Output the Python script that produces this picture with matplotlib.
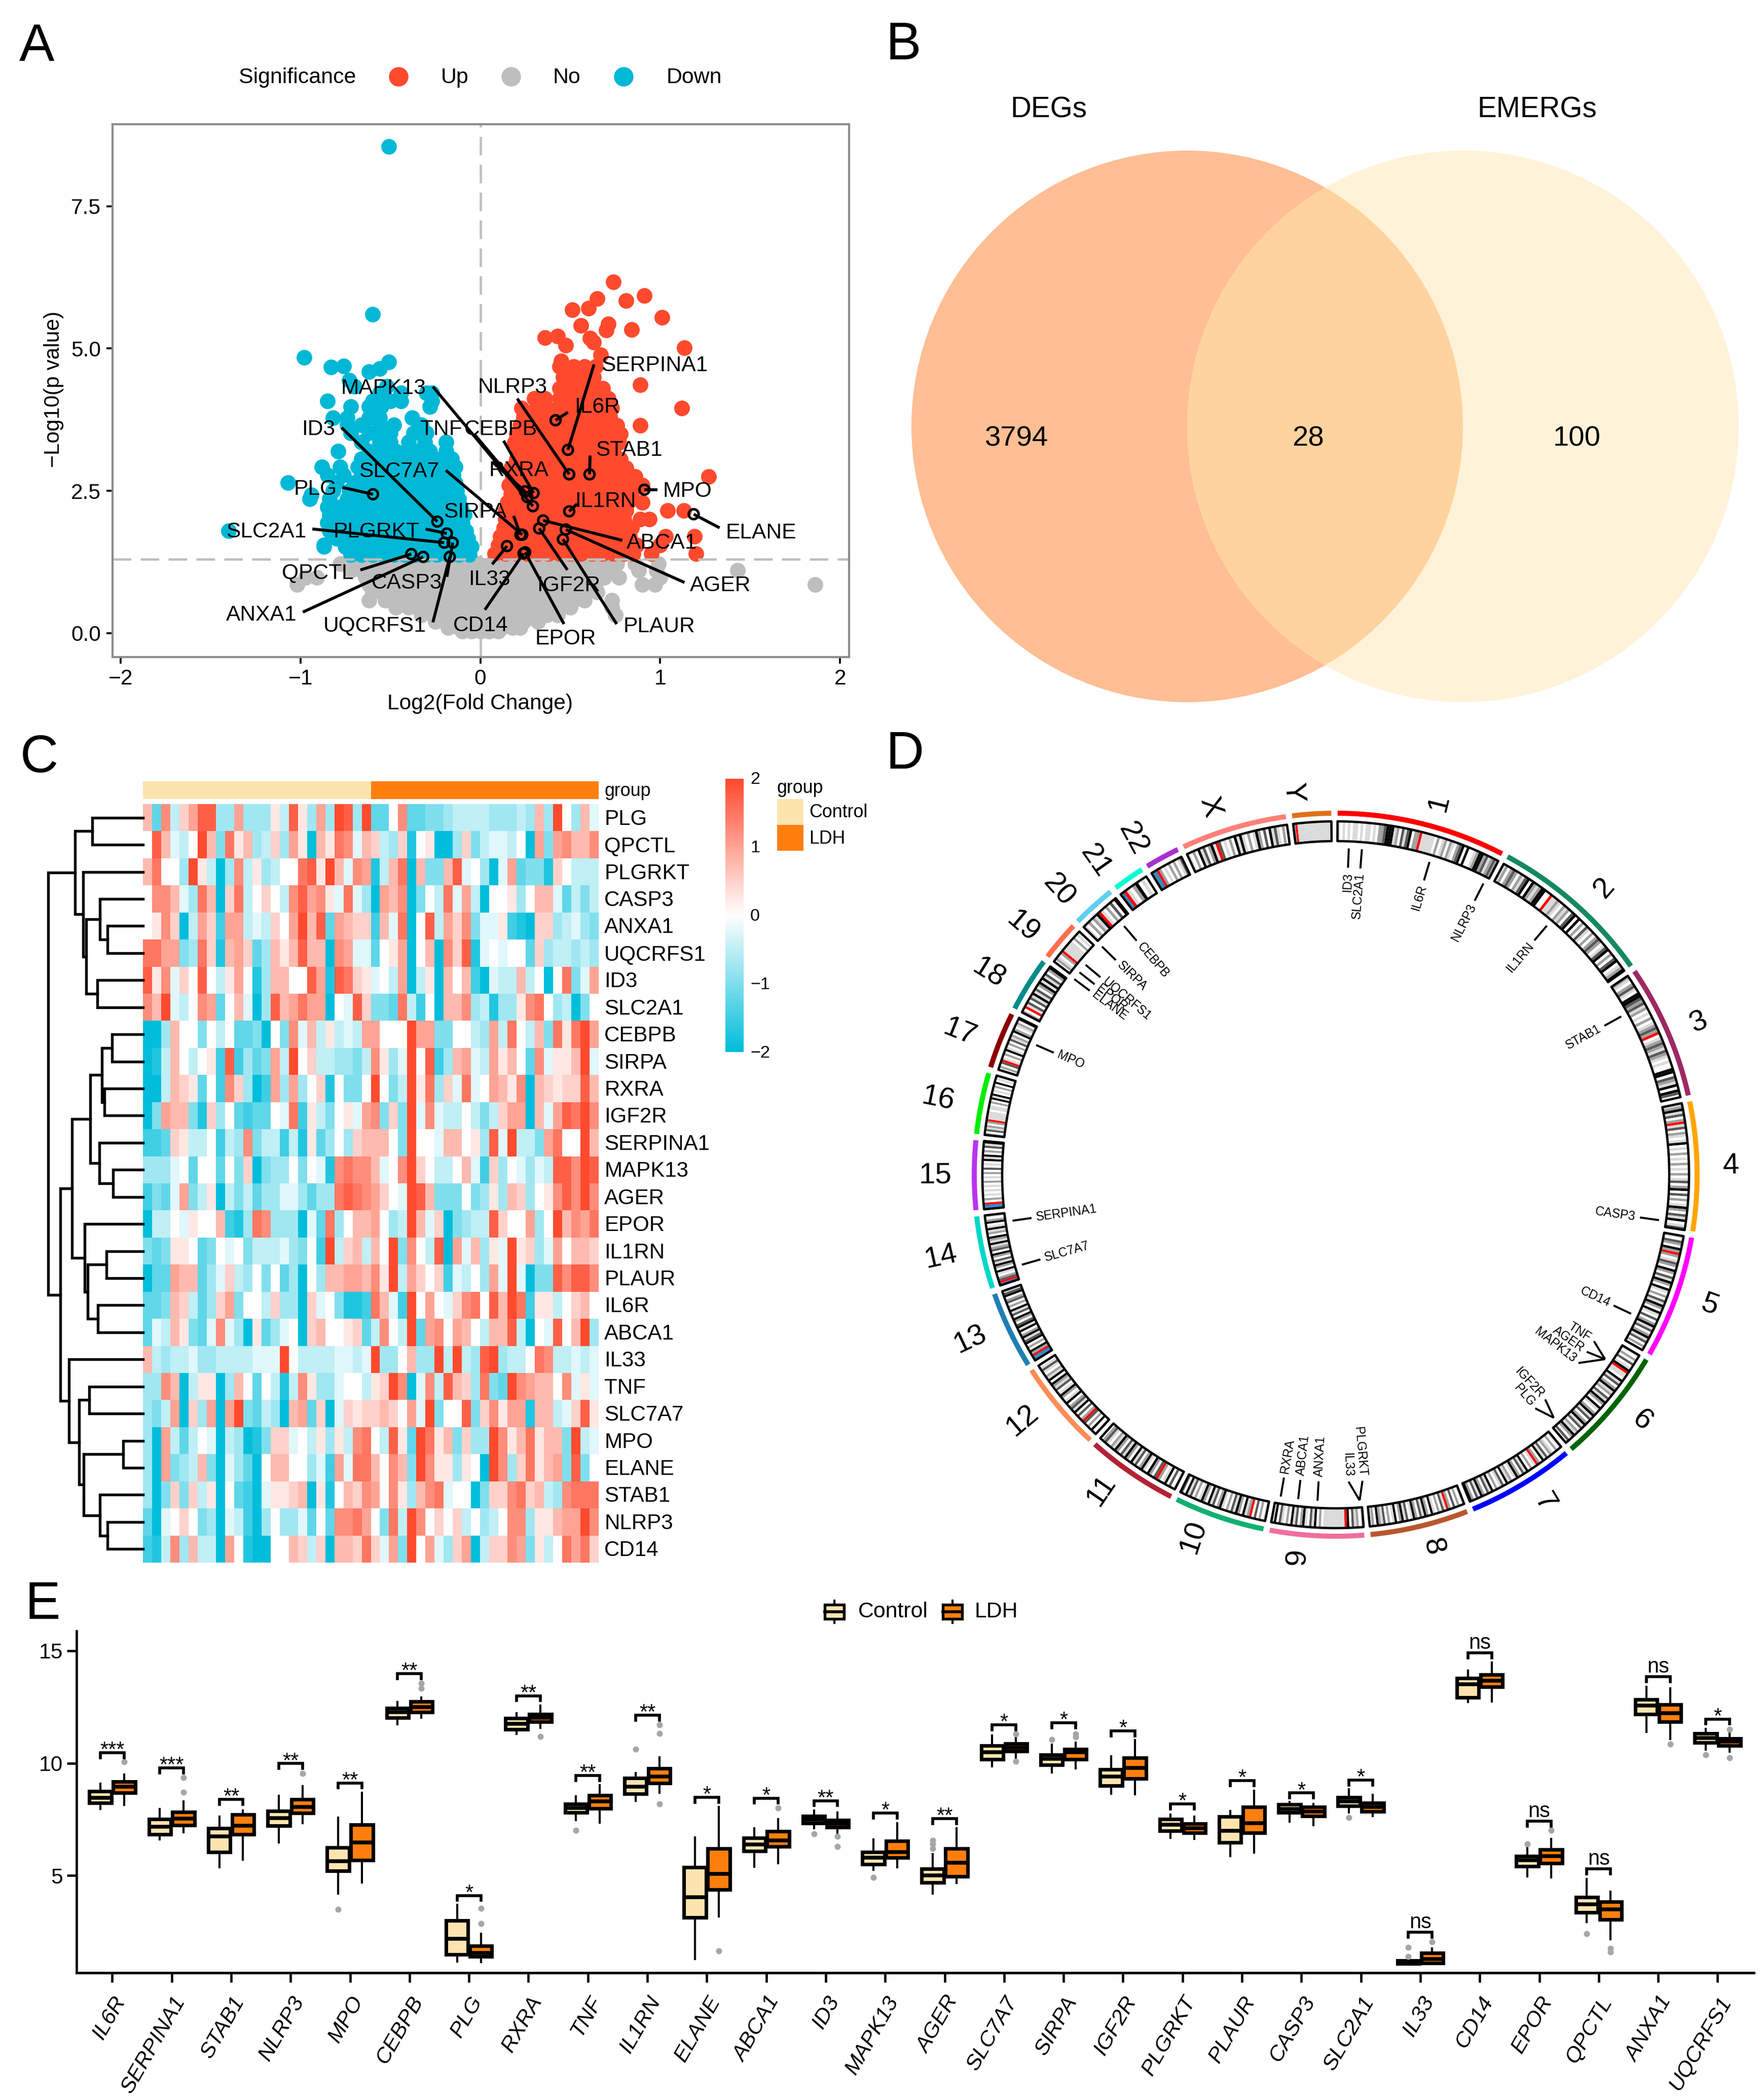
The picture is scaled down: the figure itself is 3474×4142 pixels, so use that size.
# -*- coding:utf-8 -*-
import numpy as np
import matplotlib
matplotlib.use('Agg')
import matplotlib.pyplot as plt
from matplotlib.collections import PolyCollection
from matplotlib.colors import LinearSegmentedColormap
from matplotlib.patches import Circle, Rectangle

plt.rcParams['font.family'] = ['Liberation Sans', 'DejaVu Sans']

W, H = 3474, 4142
RED, CYAN, GREY = '#FF4A2E', '#00B8D6', '#BEBEBE'
CTRL_COL, LDH_COL = '#FDE4AF', '#FE7F0E'

# ---------- panel A: volcano, rows of (-log10 p, log2 fc values) ----------
UP_ROWS = [
    (1.40, [.08, .14, .20, .26, .32, .38, .44, .50, .56, .62, .68, .74, .80, .85, .95, 1.2]),
    (1.55, [.10, .16, .22, .28, .34, .40, .46, .52, .58, .64, .70, .76, .82, .87, 1.0]),
    (1.70, [.11, .17, .23, .29, .35, .41, .47, .53, .59, .65, .71, .77, .83, 1.03, 1.19]),
    (1.85, [.13, .19, .25, .31, .37, .43, .49, .55, .61, .67, .73, .79, .84]),
    (2.00, [.14, .20, .26, .32, .38, .44, .50, .56, .62, .68, .74, .80, .89, .94]),
    (2.15, [.14, .21, .27, .33, .39, .45, .51, .57, .63, .69, .75, .81, 1.04, 1.13]),
    (2.30, [.15, .22, .28, .34, .40, .46, .52, .58, .64, .70, .76, .82, .90]),
    (2.45, [.17, .23, .29, .35, .41, .47, .53, .59, .65, .71, .77, .84]),
    (2.60, [.16, .22, .28, .34, .40, .46, .52, .58, .64, .70, .76, .83, .90]),
    (2.75, [.18, .24, .30, .36, .42, .48, .54, .60, .66, .72, .78, .86, 1.27]),
    (2.90, [.17, .23, .29, .35, .41, .47, .53, .59, .65, .71, .77, .81]),
    (3.05, [.20, .26, .32, .38, .44, .50, .56, .62, .68, .74, .78]),
    (3.20, [.21, .27, .33, .39, .45, .51, .57, .63, .69, .74]),
    (3.35, [.19, .25, .31, .37, .43, .49, .55, .61, .67, .73, .77]),
    (3.50, [.20, .26, .32, .38, .44, .50, .56, .62, .68, .74, .78]),
    (3.65, [.22, .28, .34, .40, .46, .52, .58, .64, .70, .76, .89]),
    (3.80, [.24, .30, .36, .42, .48, .54, .60, .66, .72]),
    (3.95, [.23, .31, .37, .43, .49, .55, .61, .67, .73, 1.12]),
    (4.12, [.30, .36, .44, .50, .56, .62, .68, .71]),
    (4.30, [.44, .50, .56, .62, .68]),
    (4.50, [.46, .52, .58, .63]),
    (4.68, [.44, .52, .58, .64]),
]
UP_X = [.74, .65, .81, .91, .51, .60, 1.01, .56, .71, .70, .84, .36, .43, .475, .61, .63, 1.135, .67, .45, .89]
UP_Y = [6.17, 5.88, 5.84, 5.93, 5.68, 5.71, 5.55, 5.40, 5.43, 5.32, 5.33, 5.19, 5.22, 5.06, 5.18, 5.11, 5.01, 4.89, 4.78, 4.36]

DOWN_ROWS = [
    (1.38, [-.72, -.66, -.60, -.54, -.48, -.42, -.36, -.30, -.24, -.18, -.12, -.06]),
    (1.52, [-.87, -.75, -.69, -.63, -.57, -.51, -.45, -.39, -.33, -.27, -.21, -.15, -.09, -.05]),
    (1.66, [-.80, -.72, -.66, -.60, -.54, -.48, -.42, -.36, -.30, -.24, -.18, -.12, -.07]),
    (1.80, [-.84, -.76, -.69, -.63, -.57, -.51, -.45, -.39, -.33, -.27, -.21, -.15, -.08, -1.40]),
    (1.94, [-.85, -.78, -.72, -.66, -.60, -.54, -.48, -.42, -.36, -.30, -.24, -.18, -.10]),
    (2.08, [-.84, -.76, -.69, -.63, -.57, -.51, -.45, -.39, -.33, -.27, -.21, -.15, -.09]),
    (2.22, [-.85, -.78, -.72, -.66, -.60, -.54, -.48, -.42, -.36, -.30, -.24, -.18, -.11]),
    (2.36, [-.95, -.84, -.74, -.68, -.60, -.54, -.48, -.42, -.36, -.30, -.24, -.18, -.12]),
    (2.50, [-.82, -.73, -.66, -.58, -.52, -.46, -.40, -.34, -.28, -.22, -.16, -.13]),
    (2.64, [-1.07, -.80, -.70, -.62, -.55, -.49, -.43, -.37, -.31, -.25, -.19, -.14]),
    (2.78, [-.85, -.76, -.66, -.60, -.52, -.46, -.40, -.34, -.28, -.22, -.15]),
    (2.92, [-.88, -.78, -.68, -.62, -.55, -.49, -.43, -.37, -.31, -.25, -.18, -.14]),
    (3.06, [-.66, -.60, -.52, -.46, -.40, -.34, -.28, -.22, -.16]),
    (3.20, [-.79, -.62, -.55, -.47, -.41, -.35, -.28, -.19]),
    (3.36, [-.66, -.56, -.50, -.40, -.31, -.19]),
    (3.52, [-.72, -.62, -.56, -.50, -.37, -.30]),
    (3.66, [-.74, -.66, -.56, -.48, -.33]),
    (3.78, [-.82, -.74, -.62, -.56, -.38]),
    (3.98, [-.72, -.62, -.55, -.28]),
    (4.08, [-.85, -.60, -.50, -.44, -.27]),
    (4.22, [-.56, -.44, -.30, -.27]),
    (4.34, [-.70, -.52]),
]
DOWN_X = [-.51, -.60, -.98, -.83, -.76, -.62, -.56, -.51, -.73, -.94, -.87]
DOWN_Y = [8.55, 5.60, 4.84, 4.67, 4.69, 4.59, 4.65, 4.76, 4.44, 2.43, 1.55]

NO_ROWS = [
    (.03, [-.10, -.05, 0, .05, .10]),
    (.10, [-.18, -.12, -.06, 0, .06, .12, .18, .22]),
    (.20, [-.25, -.18, -.11, -.04, .03, .10, .17, .24, .32]),
    (.32, [-.33, -.26, -.19, -.12, -.05, .02, .09, .16, .23, .30, .37, .43, .75]),
    (.45, [-.40, -.47, -.33, -.26, -.19, -.12, -.05, .02, .09, .16, .23, .30, .37, .44, .50, .73]),
    (.58, [-.62, -.53, -.46, -.39, -.32, -.25, -.18, -.11, -.04, .03, .10, .17, .24, .31, .38, .45, .52, .58, .73]),
    (.72, [-.60, -.53, -.46, -.39, -.32, -.25, -.18, -.11, -.04, .03, .10, .17, .24, .31, .38, .45, .52, .59, .65]),
    (.85, [-1.02, -.62, -.55, -.48, -.41, -.34, -.27, -.20, -.13, -.06, .01, .08, .15, .22, .29, .36, .43, .50, .57, .64, .90, .97, 1.86]),
    (.98, [-.97, -.91, -.64, -.57, -.50, -.43, -.36, -.29, -.22, -.15, -.08, -.01, .06, .13, .20, .27, .34, .41, .48, .55, .62, .69, .77, 1.0]),
    (1.10, [-.72, -.66, -.59, -.52, -.45, -.38, -.31, -.24, -.17, -.10, -.03, .04, .11, .18, .25, .32, .39, .46, .53, .60, .67, .72, .88, .98, 1.43]),
    (1.22, [-.78, -.71, -.64, -.57, -.50, -.43, -.36, -.29, -.22, -.15, -.08, -.01, .06, .13, .20, .27, .34, .41, .48, .55, .62, .69, .76, .86, .99]),
]

A_GENES = ['SERPINA1', 'IL6R', 'NLRP3', 'MAPK13', 'TNF', 'CEBPB', 'RXRA', 'STAB1', 'MPO', 'IL1RN',
           'ELANE', 'ABCA1', 'AGER', 'PLAUR', 'IGF2R', 'EPOR', 'CD14', 'IL33', 'SIRPA', 'SLC7A7',
           'ID3', 'PLG', 'PLGRKT', 'SLC2A1', 'QPCTL', 'CASP3', 'ANXA1', 'UQCRFS1']
A_X = [.487, .418, .494, .292, .261, .296, .248, .607, .912, .494,
       1.186, .349, .475, .459, .327, .249, .24, .148, .223, .233,
       -.239, -.597, -.186, -.201, -.384, -.154, -.318, -.17]
A_Y = [3.22, 3.74, 2.79, 2.23, 2.39, 2.46, 2.49, 2.79, 2.52, 2.14,
       2.09, 1.98, 1.82, 1.65, 1.84, 1.42, 1.40, 1.53, 1.73, 1.73,
       1.96, 2.44, 1.75, 1.59, 1.39, 1.59, 1.34, 1.34]
A_LINE_X = [.632, .487, .205, -.264, -.035, .129, .066, .61, .984, .538,
            1.33, .789, 1.135, .758, .484, .465, .025, .066, .185, -.192,
            -.771, -.767, -.305, -.934, -.667, -.186, -.987, -.264]
A_LINE_Y = [4.72, 3.88, 4.12, 4.33, 3.50, 3.38, 3.01, 3.12, 2.52, 2.27,
            1.85, 1.63, .89, .16, 1.11, .16, .41, 1.21, 2.06, 2.86,
            3.61, 2.56, 1.83, 1.83, 1.11, .99, .37, .19]
A_TEXT_X = [.968, .648, .179, -.538, -.217, .113, .214, .827, 1.151, .695,
            1.56, 1.01, 1.334, .994, .49, .475, .003, .05, -.028, -.453,
            -.90, -.918, -.579, -1.19, -.903, -.41, -1.217, -.588]
A_TEXT_Y = [4.70, 3.97, 4.32, 4.30, 3.58, 3.58, 2.86, 3.21, 2.49, 2.31,
            1.76, 1.58, .84, .11, .84, -.10, .13, .94, 2.13, 2.84,
            3.58, 2.53, 1.78, 1.78, 1.06, .88, .32, .13]

# ---------- panel B: venn ----------
VENN_COUNTS = ['3794', '28', '100']
VENN_SETS = ['DEGs', 'EMERGs']

# ---------- panel C: heatmap, one letter per cell (h=-2 ... .=0 ... H=2) ----------
ROW_GENES = ['PLG', 'QPCTL', 'PLGRKT', 'CASP3', 'ANXA1', 'UQCRFS1', 'ID3', 'SLC2A1', 'CEBPB', 'SIRPA',
             'RXRA', 'IGF2R', 'SERPINA1', 'MAPK13', 'AGER', 'EPOR', 'IL1RN', 'PLAUR', 'IL6R', 'ABCA1',
             'IL33', 'TNF', 'SLC7A7', 'MPO', 'ELANE', 'STAB1', 'NLRP3', 'CD14']
HEAT_ROWS = [
    'CeEbBDGGccDcccAbGAcDcHGcH' 'ee.EeeddcbbbbcccbcCcH.cCa',
    '.GCab.HCdFACcbBcDAhCAFEaC' 'BbcBg.AhhcBdbaab.hDdDECCE',
    'CF..cHAbhcEbAcb..FGAHCaED' 'gbCFhCddCGa.chaDeddgB.bbb',
    '.EECacFChBFb.B.bEGDEAaFac' 'hDCEhd.bFaDbh..Ac.CCaebdb',
    '.AEBhbDBfDDbabB.DHCGeDCBB' 'fCaFh.GbDBEdaaAfghBBcbacd',
    'FFDDdcFBgCDBecCACGCChEDaa' 'e.ADh.ChEBGga.a..eBcbbcbc',
    'GAEaB.G.bAD.gcCC..GDgGFBA' 'a.bDhbAhC.CfhabbCb.h.FdaD',
    'ECHab.EDe.CahcGCDFDDh.aGB' 'ddeFbf.hCCEcbgccAEF.cbhd.',
    'hhcC..d.b.eedh.dEaCbAbabD' 'D...HDDdd..bcDbF.bCdFAFHD',
    'hgbC.b.AfGfcedDbH.Bbbccdb' 'EAcaH.GfcCDabDAC.eEaAACHa',
    'hhbCBAe.fEBchfDcDc.Bg.dd.' 'H.dbHAFcBaFa.DCAEhCBABBGC',
    'hdDCCdgBc.efee.aFfAbd.AaD' 'EdBdHaEabb.bdbBDDhCaDGFHE',
    'ffeBAbb.fbcEdbbfbgAec.cBC' 'CC.dH..aCC.AcGaHbbdDF..HC',
    'ccca.e..e.dBhdcc.d.agEFEE' 'Ca.EHB.bb.CafBc.acabGGEHG',
    'fdeaDdbAhbdbeccaaceccFGFE' 'DB.aHGCddd.dcAcCBc.AEGEHE',
    'hbb.aA..CfgcFEccchaeFc.CC' 'D.cbHCaBhdcbbGB..Dc.HCEDF',
    'dedAA.ed.a.dbbbacd.fHbBCb' 'C.HdE.bGhDaCcAaHABcaD.CCB',
    'heeDCCecaBbc.d.ech.cCCDDC' 'EAHbDB.Bfab.cDaHahddGEGGE',
    'eedCBbecBDd..bBcchBa.dggf' 'FCafH.D.aBEF.GCHFfAAb.BC.',
    'eabCAdeaEachAeca.hBC..ABe' 'bE.bHeDE.DC.bCCGbh.aG.CHc',
    'CbcbbaccbbbbaaaH.bbbbaaba' 'Hcc.CccHbHbcGHcbb.FEbbaba',
    'ccEChbAAhcC.e.bgbEAcca..b' 'ABHEhaEbGCBcFdeHEDCC.EaAa',
    'cdbDhBcDhDHdebchCDeBhaBAB' 'BCB.DaHd..GdBEADDgCCbaBGA',
    'chDbeb.ahbchgdBBa.bAcAbEF' '.bGAeHFACdBccHEACFACCdHba',
    'chDdcbCdhaceh.CC..cafDaFF' 'C.ECdHEAAcA.hHEcBFACDdGd.',
    'chdBdBbAh.efhaAABChAg.CBE' 'D.EAcCEFa..hdBBEFBCbcEFFF',
    'eha.B.dchabfhc.ccae.eEEFD' '.dFbHE.B.Bb.cb.EEcAACDDHE',
    'fgbEcCbbhD.ghh..CBbBhCCBF' 'BaDdH.DacBDhbBBEDdAb.FDFB',
]
HEAT_LEVELS = 'hgfedcba.ABCDEFGH'
GROUP_CELLS = [0] * 25 + [1] * 25
# merge height, left child, right child; plain numbers are rows
ROW_TREE = (168,
            (120, (90, 0, 1), (106, 2, (101, (76, 3, (63, 4, 5)), (81, 6, 7)))),
            (146,
             (126, (93, (73, (55, 8, 9), (68, 10, 11)), (77, 12, (53, 13, 14))),
              (103, 15, (98, (65, 16, 17), (80, 18, 19)))),
             (131, 20, (113, (95, 21, 22), (105, (35, 23, 24), (76, 25, (63, 26, 27)))))))

# ---------- panel D: ideogram ----------
CHROMS = ['1', '2', '3', '4', '5', '6', '7', '8', '9', '10', '11', '12', '13', '14', '15', '16',
          '17', '18', '19', '20', '21', '22', 'X', 'Y']
CHROM_LEN = [249.0, 242.2, 198.3, 190.2, 181.5, 170.8, 159.3, 145.1, 138.4, 133.8, 135.1, 133.3,
             114.4, 107.0, 102.0, 90.3, 83.3, 80.4, 58.6, 64.4, 46.7, 50.8, 156.0, 57.2]
CHROM_COL = ['#FF0000', '#128A5E', '#9E2763', '#FFA500', '#FF00FF', '#006400', '#0000FF', '#B8562F',
             '#F06E9E', '#10B070', '#B22234', '#FF8C55', '#1E7EB4', '#00D8C8', '#BB33EE', '#00EE00',
             '#8B0000', '#008B8B', '#FF6E50', '#60CFEE', '#00FFD0', '#A830D0', '#FF8078', '#E0701C']
# one letter per band: 0 white ... 4 black, r centromere, b stalk
CHROM_BANDS = [
    '10101011010110102234441203134022r1111102012021023404001244231232',
    '12023202134042124400r1121021203404020310202320134020340124',
    '21023104432312010201232r0123213210100440321404 30'.replace(' ', ''),
    '1241302r13021014010201020102013024030201420314013',
    '1032042r20132042031420410203142041030241302413020',
    '10203014r1104130241203142041024130241302142031',
    '102012031402r10204130241021403102041302413024',
    '1020302r1302014024130241031420410203124021',
    '1021304r1111111110204130142031402013041',
    '102030r214024130201420314024102031403',
    '10304102r302401420314024130241201320',
    '1040203r20304132041024103124041201310',
    'bbr2402043142041430240314020320431',
    'br3201402413024032141240214104201',
    'bbr0201010102010203010414020314',
    '2031202r1111011020414010204010',
    '0203r10204102031204201204',
    '20r130314130241413024',
    '02102r1111102010',
    '1020214r1020304',
    'br1024010',
    'bbr2010202013',
    '10204130241r30102041410201420304131020',
    '2r1111111111111111',
]
CHROM_TICKS = ['ID3', 'SLC2A1', 'IL6R', 'NLRP3', 'IL1RN', 'STAB1', 'CASP3', 'CD14', 'TNF', 'AGER', 'MAPK13',
               'IGF2R', 'PLG', 'PLGRKT', 'IL33', 'ANXA1', 'ABCA1', 'RXRA', 'SLC7A7', 'SERPINA1', 'MPO',
               'ELANE', 'EPOR', 'UQCRFS1', 'SIRPA', 'CEBPB']
TICK_ANGLE = [2.3, 4.6, 16.7, 26.9, 40.3, 61, 98, 115.2, 124.4, 124.4, 124.4,
              138.1, 138.1, 175.8, 175.8, 183.2, 186.6, 189.7, 254, 261.9, 293.4,
              306.8, 308.3, 310, 314.3, 319.6]
LABEL_ANGLE = [2.3, 4.6, 16.7, 26.9, 40.3, 61, 98, 115.2, 122.8, 125.2, 127.8,
               137, 139.5, 175, 177.6, 183.2, 186.6, 189.7, 254, 261.9, 293.4,
               306.8, 308.3, 310, 314.3, 319.6]

# ---------- panel E: boxplots ----------
BOX_GENES = ['IL6R', 'SERPINA1', 'STAB1', 'NLRP3', 'MPO', 'CEBPB', 'PLG', 'RXRA', 'TNF', 'IL1RN', 'ELANE', 'ABCA1',
             'ID3', 'MAPK13', 'AGER', 'SLC7A7', 'SIRPA', 'IGF2R', 'PLGRKT', 'PLAUR', 'CASP3', 'SLC2A1', 'IL33',
             'CD14', 'EPOR', 'QPCTL', 'ANXA1', 'UQCRFS1']
# whisker low, q1, median, q3, whisker high
CTRL_BOX = [
    [7.97, 8.23, 8.45, 8.74, 9.08], [6.60, 6.82, 7.18, 7.50, 7.97], [5.36, 6.05, 6.75, 7.11, 7.62],
    [6.46, 7.21, 7.56, 7.87, 8.55], [4.18, 5.20, 5.64, 6.24, 7.58], [11.72, 12.02, 12.26, 12.45, 12.71],
    [1.17, 1.49, 2.19, 2.99, 3.69], [11.29, 11.51, 11.75, 11.99, 12.23], [7.47, 7.79, 8.01, 8.19, 8.52],
    [8.32, 8.64, 8.96, 9.34, 9.57], [1.29, 3.14, 4.04, 5.36, 6.70], [5.39, 6.09, 6.38, 6.67, 7.10],
    [7.10, 7.33, 7.49, 7.65, 7.90], [5.25, 5.51, 5.79, 6.05, 6.60], [4.20, 4.69, 5.00, 5.29, 5.95],
    [9.86, 10.17, 10.49, 10.78, 11.22], [9.58, 9.93, 10.20, 10.37, 10.82], [8.64, 8.99, 9.40, 9.73, 10.31],
    [6.67, 6.99, 7.26, 7.50, 7.72], [5.87, 6.48, 6.99, 7.61, 7.87], [7.39, 7.79, 7.97, 8.16, 8.28],
    [7.79, 8.09, 8.30, 8.48, 8.84], [1.03, 1.07, 1.14, 1.22, 1.32], [12.71, 12.93, 13.50, 13.79, 14.13],
    [4.96, 5.42, 5.68, 5.86, 6.31], [2.92, 3.36, 3.72, 4.04, 4.85], [11.39, 12.19, 12.57, 12.83, 13.40],
    [10.60, 10.92, 11.11, 11.32, 11.53],
]
LDH_BOX = [
    [8.13, 8.67, 8.96, 9.18, 9.50], [6.92, 7.24, 7.53, 7.82, 8.30], [5.71, 6.82, 7.21, 7.72, 7.90],
    [7.33, 7.77, 8.06, 8.38, 8.97], [4.69, 5.68, 6.46, 7.27, 8.67], [12.02, 12.26, 12.50, 12.74, 12.93],
    [1.14, 1.39, 1.56, 1.87, 2.41], [11.58, 11.83, 12.02, 12.19, 12.57], [7.36, 7.98, 8.30, 8.57, 9.03],
    [8.67, 9.10, 9.40, 9.76, 10.27], [3.18, 4.37, 5.07, 6.19, 8.06], [5.54, 6.30, 6.56, 6.97, 7.50],
    [6.89, 7.14, 7.30, 7.46, 7.79], [5.36, 5.79, 6.05, 6.53, 7.33], [4.67, 4.96, 5.57, 6.19, 7.11],
    [10.17, 10.53, 10.70, 10.88, 11.20], [9.76, 10.17, 10.49, 10.63, 10.92], [8.62, 9.32, 9.79, 10.23, 11.03],
    [6.63, 6.89, 7.10, 7.30, 7.62], [6.02, 6.89, 7.33, 8.06, 8.78], [7.24, 7.65, 7.84, 8.04, 8.19],
    [7.65, 7.84, 8.06, 8.23, 8.60], [1.07, 1.10, 1.27, 1.54, 1.75], [12.74, 13.40, 13.66, 13.95, 14.49],
    [4.91, 5.54, 5.87, 6.16, 6.63], [2.15, 3.03, 3.50, 3.84, 4.27], [11.07, 11.84, 12.23, 12.60, 13.33],
    [10.52, 10.78, 10.95, 11.10, 11.33],
]
CTRL_OUT = [[], [], [], [], [3.50], [], [], [], [7.00], [10.62], [], [], [6.85], [4.91],
            [6.19, 6.41, 6.56], [], [11.04], [], [], [], [], [7.58], [1.39, 1.80], [], [6.41], [2.41], [], [10.37]]
LDH_OUT = [[10.05], [8.70, 9.35], [], [9.53], [], [13.33, 13.55], [2.85, 3.54], [11.19], [], [8.19, 11.33, 11.70],
           [1.64], [8.00], [6.75, 6.30], [], [], [10.08, 11.29], [11.17, 11.29], [], [], [], [], [], [2.05], [],
           [7.02], [1.75, 1.60], [10.85], [10.23, 11.50]]
BRACKET_Y = [10.46, 9.79, 8.38, 9.98, 9.12, 13.98, 4.11, 13.00, 9.44, 12.13, 8.48, 8.44, 8.33, 7.77,
             7.53, 11.70, 11.80, 11.43, 8.19, 9.22, 8.67, 9.25, 2.47, 14.90, 7.42, 5.29, 13.84, 11.96]
SIG = ['***', '***', '**', '**', '**', '**', '*', '**', '**', '**', '*', '*', '**', '*',
       '**', '*', '*', '*', '*', '*', '*', '*', 'ns', 'ns', 'ns', 'ns', 'ns', '*']


def px_axes(fig, x0, y0, x1, y1):
    # axes box given in picture pixels, y going down
    return fig.add_axes([x0 / W, 1 - y1 / H, (x1 - x0) / W, (y1 - y0) / H])


def rows_xy(rows):
    xs, ys = [], []
    for y, vals in rows:
        xs += vals
        ys += [y] * len(vals)
    return xs, ys


fig = plt.figure(figsize=(W / 300, H / 300), dpi=300, facecolor='white')
canvas = px_axes(fig, 0, 0, W, H)
canvas.set_xlim(0, W)
canvas.set_ylim(H, 0)
canvas.axis('off')
canvas.set_zorder(5)

for letter, lx, ly in [('A', 38, 120), ('B', 1748, 117), ('C', 40, 1523), ('D', 1748, 1516), ('E', 50, 3193)]:
    canvas.text(lx, ly, letter, fontsize=25, ha='left', va='baseline')

# ---------- A ----------
ax = px_axes(fig, 222, 245, 1675, 1296)
x, y = rows_xy(NO_ROWS)
ax.scatter(x, y, s=55, color=GREY, linewidths=0)
x, y = rows_xy(UP_ROWS)
ax.scatter(x + UP_X, y + UP_Y, s=55, color=RED, linewidths=0)
x, y = rows_xy(DOWN_ROWS)
ax.scatter(x + DOWN_X, y + DOWN_Y, s=55, color=CYAN, linewidths=0)
ax.axhline(1.30, color=GREY, lw=1.1, dashes=(8, 4))
ax.axvline(0, color=GREY, lw=1.1, dashes=(8, 4))
for i, gene in enumerate(A_GENES):
    ax.plot([A_X[i], A_LINE_X[i]], [A_Y[i], A_LINE_Y[i]], color='black', lw=1.4, solid_capstyle='butt', zorder=4)
    ax.text(A_TEXT_X[i], A_TEXT_Y[i], gene, fontsize=10.2, ha='center', va='center', zorder=6)
ax.scatter(A_X, A_Y, s=22, facecolors='none', edgecolors='black', linewidths=1.2, zorder=5)
ax.set_xlim(-2.045, 2.05)
ax.set_ylim(-0.42, 8.94)
ax.set_xticks([-2, -1, 0, 1, 2])
ax.set_yticks([0, 2.5, 5, 7.5])
ax.set_yticklabels(['0.0', '2.5', '5.0', '7.5'])
ax.tick_params(labelsize=10.2, length=3, width=0.9, pad=2.5)
for s in ax.spines.values():
    s.set_color('#8C8C8C')
    s.set_linewidth(1.0)
canvas.text(947, 1388, 'Log2(Fold Change)', fontsize=10.2, ha='center', va='center')
canvas.text(106, 768, '\u2212Log10(p value)', fontsize=10.2, rotation=90, ha='center', va='center')
canvas.text(471, 153, 'Significance', fontsize=10.3, ha='left', va='center')
for mx, tx, name, col in [(786, 870, 'Up', RED), (1008, 1091, 'No', GREY), (1230, 1315, 'Down', CYAN)]:
    canvas.scatter([mx], [151], s=85, color=col, linewidths=0)
    canvas.text(tx, 153, name, fontsize=10.3, ha='left', va='center')

# ---------- B ----------
left = Circle((2342, 841), 544, facecolor='#FFBE94', edgecolor='none')
right = Circle((2886, 841), 544, facecolor='#FFF2D8', edgecolor='none')
both = Circle((2886, 841), 544, facecolor='#FFD39F', edgecolor='none')
canvas.add_patch(left)
canvas.add_patch(right)
canvas.add_patch(both)
both.set_clip_path(left)
canvas.text(2069, 216, VENN_SETS[0], fontsize=13.6, ha='center', va='center')
canvas.text(3032, 216, VENN_SETS[1], fontsize=13.6, ha='center', va='center')
for label, tx in zip(VENN_COUNTS, [2005, 2581, 3111]):
    canvas.text(tx, 865, label, fontsize=13.5, ha='center', va='center')

# ---------- C ----------
heat_cmap = LinearSegmentedColormap.from_list('heat', ['#00BEDB', '#FFFFFF', '#FF4A2E'])
values = np.array([[(HEAT_LEVELS.index(c) - 8) * 0.25 for c in row] for row in HEAT_ROWS])
ax = px_axes(fig, 282, 1586, 1181, 3082)
ax.pcolormesh(values, cmap=heat_cmap, vmin=-2, vmax=2)
ax.set_ylim(len(ROW_GENES), 0)
ax.axis('off')
for i, gene in enumerate(ROW_GENES):
    canvas.text(1192, 1589 + (i + 0.5) * (3082 - 1586) / 28, gene, fontsize=10.1, ha='left', va='center')

ax = px_axes(fig, 282, 1541, 1181, 1576)
ax.pcolormesh([GROUP_CELLS], cmap=LinearSegmentedColormap.from_list('grp', [CTRL_COL, LDH_COL]))
ax.axis('off')
canvas.text(1192, 1561, 'group', fontsize=8.6, ha='left', va='center')

ax = px_axes(fig, 1431, 1536, 1466, 2075)
ax.imshow(np.linspace(2, -2, 200).reshape(-1, 1), cmap=heat_cmap, vmin=-2, vmax=2, aspect='auto',
          extent=[0, 1, -2, 2])
ax.axis('off')
for v, lab in zip([2, 1, 0, -1, -2], ['2', '1', '0', '\u22121', '\u22122']):
    canvas.text(1480, 1538 + (2 - v) * 134.75, lab, fontsize=8.2, ha='left', va='center')
canvas.text(1533, 1555, 'group', fontsize=8.6, ha='left', va='center')
canvas.add_patch(Rectangle((1533, 1576), 52, 51, facecolor=CTRL_COL, edgecolor='none'))
canvas.add_patch(Rectangle((1533, 1627), 52, 51, facecolor=LDH_COL, edgecolor='none'))
canvas.text(1596, 1603, 'Control', fontsize=8.6, ha='left', va='center')
canvas.text(1596, 1655, 'LDH', fontsize=8.6, ha='left', va='center')

ax = px_axes(fig, 95, 1586, 282, 3082)


def draw_tree(node):
    # returns height and row position of a subtree
    if not isinstance(node, tuple):
        return 0, node + 0.5
    h, a, b = node
    ha_, ya = draw_tree(a)
    hb, yb = draw_tree(b)
    ax.plot([ha_, h, h, hb], [ya, ya, yb, yb], color='black', lw=1.3, clip_on=False, solid_joinstyle='miter')
    return h, (ya + yb) / 2


draw_tree(ROW_TREE)
ax.set_xlim(168, 0)
ax.set_ylim(28, 0)
ax.axis('off')

# ---------- D ----------
CX, CY = 2635, 2317
BAND_COL = {'0': '#FFFFFF', '1': '#DADADA', '2': '#A0A0A0', '3': '#585858', '4': '#000000',
            'r': '#FF0000', 'b': '#2E86C1'}
GAP = 1.0
# sideways nudge of the chromosome names, pixels
NAME_NUDGE = [15, 5, -8, -10, -5, 0, 5, 8, -34, -26, -16, -13, -8, -8, 0, -10, -8, -13, -15, -18, -21, -21, -24, -32]


def ring_part(a0, a1, r0, r1):
    t = np.radians(np.linspace(a0, a1, max(3, int(abs(a1 - a0) * 3) + 2)))
    outer = np.c_[CX + r1 * np.sin(t), CY - r1 * np.cos(t)]
    inner = np.c_[CX + r0 * np.sin(t), CY - r0 * np.cos(t)]
    return np.vstack([outer, inner[::-1]])


deg_per = (360 - GAP * len(CHROMS)) / sum(CHROM_LEN)
start = 0.3
for i, name in enumerate(CHROMS):
    span = CHROM_LEN[i] * deg_per
    canvas.add_collection(PolyCollection([ring_part(start, start + span, 708, 718)], facecolors=CHROM_COL[i],
                                         edgecolors='none'))
    bands = CHROM_BANDS[i]
    step = span / len(bands)
    polys = [ring_part(start + k * step, start + (k + 1) * step, 658, 697) for k in range(len(bands))]
    canvas.add_collection(PolyCollection(polys, facecolors=[BAND_COL[c] for c in bands], edgecolors='none'))
    canvas.add_collection(PolyCollection([ring_part(start, start + span, 658, 697)], facecolors='none',
                                         edgecolors='black', linewidths=1.1))
    mid = start + span / 2
    rot = 90 - mid if mid < 180 else 270 - mid
    # labels sit further out at the sides than at top and bottom
    canvas.text(CX + 790 * np.sin(np.radians(mid)) + NAME_NUDGE[i], CY - 755 * np.cos(np.radians(mid)), name,
                fontsize=14, rotation=rot, ha='center', va='center', rotation_mode='anchor')
    start += span + GAP

for gene, t0, t1 in zip(CHROM_TICKS, TICK_ANGLE, LABEL_ANGLE):
    a0, a1 = np.radians(t0), np.radians(t1)
    canvas.plot([CX + 644 * np.sin(a0), CX + 606 * np.sin(a1)], [CY - 644 * np.cos(a0), CY - 606 * np.cos(a1)],
                color='black', lw=0.95, solid_capstyle='butt')
    tx, ty = CX + 597 * np.sin(a1), CY - 597 * np.cos(a1)
    if t1 < 180:
        canvas.text(tx, ty, gene, fontsize=5.9, rotation=90 - t1, ha='right', va='center', rotation_mode='anchor')
    else:
        canvas.text(tx, ty, gene, fontsize=5.9, rotation=270 - t1, ha='left', va='center', rotation_mode='anchor')

# ---------- E ----------
ax = px_axes(fig, 151, 3217, 3460, 3891)
pos = np.arange(1, len(BOX_GENES) + 1)
for offset, boxes, outs, col in [(-0.2, CTRL_BOX, CTRL_OUT, CTRL_COL), (0.2, LDH_BOX, LDH_OUT, LDH_COL)]:
    stats = [{'whislo': b[0], 'q1': b[1], 'med': b[2], 'q3': b[3], 'whishi': b[4], 'fliers': o}
             for b, o in zip(boxes, outs)]
    ax.bxp(stats, positions=pos + offset, widths=0.37, patch_artist=True, showcaps=False, manage_ticks=False,
           boxprops={'facecolor': col, 'edgecolor': 'black', 'linewidth': 1.7},
           medianprops={'color': 'black', 'linewidth': 1.8, 'solid_capstyle': 'butt'},
           whiskerprops={'color': 'black', 'linewidth': 1.0},
           flierprops={'marker': 'o', 'markersize': 2.9, 'markerfacecolor': '#A6A6A6', 'markeredgecolor': 'none'})
for p, by, sig in zip(pos, BRACKET_Y, SIG):
    ax.plot([p - 0.2, p - 0.2, p + 0.2, p + 0.2], [by - 0.22, by, by, by - 0.22], color='black', lw=1.35,
            solid_joinstyle='miter')
    ax.text(p, by + (0.18 if sig == 'ns' else -0.16), sig, fontsize=10, ha='center', va='baseline')
ax.set_xlim(0.4, 28.61)
ax.set_ylim(0.67, 15.88)
ax.set_yticks([5, 10, 15])
ax.set_xticks(pos)
ax.set_xticklabels(BOX_GENES, rotation=60, ha='right', va='top', rotation_mode='anchor', style='italic', fontsize=10.4)
ax.tick_params(axis='y', labelsize=10.2, length=4.5, width=1.1, pad=2)
ax.tick_params(axis='x', length=4.5, width=1.1, pad=5)
ax.spines['top'].set_visible(False)
ax.spines['right'].set_visible(False)
ax.spines['left'].set_linewidth(1.1)
ax.spines['bottom'].set_linewidth(1.2)

for kx, tx, name, col in [(1646, 1693, 'Control', CTRL_COL), (1879, 1923, 'LDH', LDH_COL)]:
    canvas.plot([kx, kx], [3157, 3201], color='black', lw=1.0)
    canvas.add_patch(Rectangle((kx - 19, 3165), 38, 28, facecolor=col, edgecolor='black', lw=1.3, zorder=3))
    canvas.plot([kx - 19, kx + 19], [3179, 3179], color='black', lw=1.4, zorder=4)
    canvas.text(tx, 3179, name, fontsize=10.3, ha='left', va='center')

canvas.set_xlim(0, W)
canvas.set_ylim(H, 0)
fig.savefig('out.png', dpi=300)
